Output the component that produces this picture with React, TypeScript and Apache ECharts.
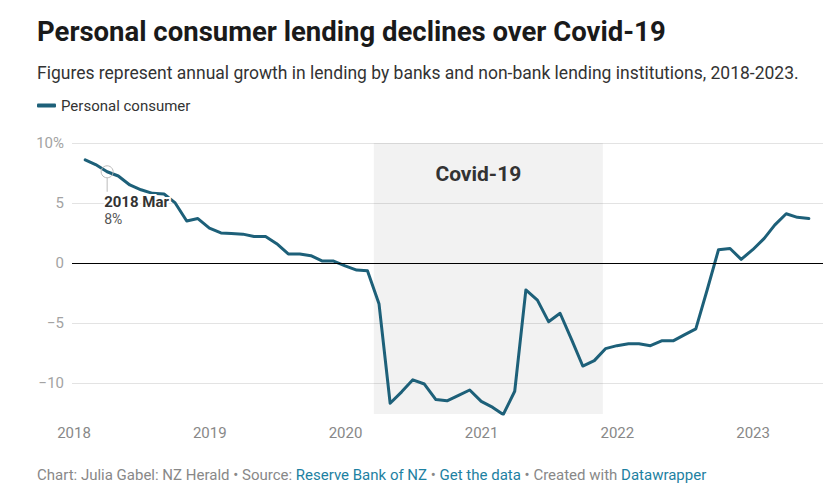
import React, { useEffect, useRef } from 'react';
import * as echarts from 'echarts';

// Month-end observations, Jan 2018 – May 2023
const months = [
  '2018-01', '2018-02', '2018-03', '2018-04', '2018-05', '2018-06', '2018-07', '2018-08', '2018-09', '2018-10', '2018-11', '2018-12',
  '2019-01', '2019-02', '2019-03', '2019-04', '2019-05', '2019-06', '2019-07', '2019-08', '2019-09', '2019-10', '2019-11', '2019-12',
  '2020-01', '2020-02', '2020-03', '2020-04', '2020-05', '2020-06', '2020-07', '2020-08', '2020-09', '2020-10', '2020-11', '2020-12',
  '2021-01', '2021-02', '2021-03', '2021-04', '2021-05', '2021-06', '2021-07', '2021-08', '2021-09', '2021-10', '2021-11', '2021-12',
  '2022-01', '2022-02', '2022-03', '2022-04', '2022-05', '2022-06', '2022-07', '2022-08', '2022-09', '2022-10', '2022-11', '2022-12',
  '2023-01', '2023-02', '2023-03', '2023-04', '2023-05',
];

const personalConsumer = [
  8.6, 8.2, 7.6, 7.25, 6.5, 6.1, 5.8, 5.75, 5.0, 3.5, 3.7, 2.9,
  2.5, 2.45, 2.4, 2.2, 2.2, 1.6, 0.75, 0.75, 0.6, 0.15, 0.15, -0.25,
  -0.6, -0.65, -3.4, -11.7, -10.75, -9.75, -10.1, -11.4, -11.5, -11.05, -10.6, -11.55,
  -12.05, -12.65, -10.7, -2.25, -3.1, -4.9, -4.2, -6.4, -8.6, -8.15, -7.15, -6.9,
  -6.75, -6.75, -6.9, -6.5, -6.5, -6.0, -5.5, -2.2, 1.1, 1.2, 0.3, 1.1,
  2.05, 3.15, 4.1, 3.8, 3.7,
];

const seriesName = 'Personal consumer';
const covidRange = ['2020-03-17', '2021-11-23'];
const covidLabel = 'Covid-19';
const annotatedMonth = '2018-03';
const annotatedLabel = '2018 Mar';
const yLabels: Record<string, string> = { '10': '10%', '5': '5', '0': '0', '-5': '\u22125', '-10': '\u221210' };

const titleText = 'Personal consumer lending declines over Covid-19';
const subtitleText = 'Figures represent annual growth in lending by banks and non-bank lending institutions, 2018-2023.';

const monthEnd = (s: string) => {
  const [y, m] = s.split('-').map(Number);
  return new Date(y, m, 0).getTime();
};
const dayTs = (s: string) => {
  const [y, m, d] = s.split('-').map(Number);
  return new Date(y, m - 1, d).getTime();
};

const LINE = '#1d6079';
const FONT = 'Roboto';

export default function App() {
  const ref = useRef<HTMLDivElement>(null);

  useEffect(() => {
    if (!ref.current) return;
    const chart = echarts.init(ref.current, null, { renderer: 'svg' });
    const data = months.map((m, i) => [monthEnd(m), personalConsumer[i]]);

    chart.setOption({
      animation: false,
      backgroundColor: '#ffffff',
      textStyle: { fontFamily: FONT },
      legend: {
        left: 37,
        top: 98,
        padding: 0,
        itemWidth: 19,
        itemHeight: 4,
        icon: 'roundRect',
        textStyle: { fontSize: 15, color: '#333333', fontFamily: FONT },
        data: [seriesName],
      },
      grid: { left: 72, right: 5, top: 143, bottom: 77 },
      xAxis: {
        type: 'time',
        min: new Date(2017, 11, 26, 12).getTime(),
        max: new Date(2023, 6, 8).getTime(),
        minInterval: 365 * 24 * 3600 * 1000,
        axisLine: { show: false },
        axisTick: { show: false },
        splitLine: { show: false },
        axisLabel: {
          color: '#888888',
          fontSize: 15,
          fontFamily: FONT,
          margin: 11,
          formatter: (val: number) => {
            const d = new Date(val);
            return d.getMonth() === 0 && d.getDate() === 1 ? String(d.getFullYear()) : '';
          },
        },
      },
      yAxis: {
        type: 'value',
        min: -12.6,
        max: 10,
        splitNumber: 5,
        axisLine: { show: false },
        axisTick: { show: false },
        splitLine: { show: true, showMinLine: false, lineStyle: { color: '#e3e3e3', width: 1 } },
        axisLabel: {
          color: '#a3a3a3',
          fontSize: 15,
          fontFamily: FONT,
          margin: 8,
          showMinLabel: false,
          formatter: (v: number) => yLabels[String(v)] ?? '',
        },
      },
      series: [
        {
          name: seriesName,
          type: 'line',
          data,
          showSymbol: false,
          symbol: 'none',
          color: LINE,
          lineStyle: { color: LINE, width: 3, cap: 'round', join: 'round' },
          markArea: {
            silent: true,
            itemStyle: { color: 'rgba(0,0,0,0.05)' },
            label: {
              show: true,
              position: 'insideTop',
              distance: 20,
              offset: [-10, 0],
              formatter: covidLabel,
              fontSize: 21,
              fontWeight: 'bold',
              color: '#333333',
              fontFamily: FONT,
            },
            data: [[{ xAxis: dayTs(covidRange[0]) }, { xAxis: dayTs(covidRange[1]) }]],
          },
          markLine: {
            silent: true,
            symbol: 'none',
            label: { show: false },
            lineStyle: { color: '#000000', width: 1, type: 'solid' },
            data: [{ yAxis: 0 }],
          },
        },
      ],
    });

    const idx = months.indexOf(annotatedMonth);
    const val = personalConsumer[idx];
    const [px, py] = chart.convertToPixel({ seriesIndex: 0 }, [monthEnd(annotatedMonth), val]) as number[];

    chart.setOption({
      graphic: [
        {
          type: 'text',
          style: { text: titleText, x: 37, y: 31, verticalAlign: 'middle', fontSize: 27.5, fontWeight: 'bold', fontFamily: FONT, fill: '#1a1a1a' },
        },
        {
          type: 'text',
          style: { text: subtitleText, x: 37, y: 73, verticalAlign: 'middle', fontSize: 17.5, fontFamily: FONT, fill: '#333333' },
        },
        {
          type: 'text',
          style: {
            x: 37,
            y: 475,
            verticalAlign: 'middle',
            fontSize: 15,
            fontFamily: FONT,
            text: '{g|Chart: Julia Gabel: NZ Herald \u2022 Source: }{b|Reserve Bank of NZ}{g| \u2022 }{b|Get the data}{g| \u2022 Created with }{b|Datawrapper}',
            rich: {
              g: { fill: '#888888', fontSize: 15, fontFamily: FONT },
              b: { fill: '#1d81a2', fontSize: 15, fontFamily: FONT },
            },
          },
        },
        {
          type: 'line',
          z: 10,
          shape: { x1: px, y1: py + 6, x2: px, y2: py + 20 },
          style: { stroke: '#bbbbbb', lineWidth: 1 },
        },
        {
          type: 'circle',
          z: 10,
          shape: { cx: px, cy: py, r: 6 },
          style: { fill: 'none', stroke: '#bbbbbb', lineWidth: 1 },
        },
        {
          type: 'text',
          z: 11,
          style: {
            text: annotatedLabel,
            x: px - 3,
            y: py + 30,
            verticalAlign: 'middle',
            fontSize: 15,
            fontWeight: 'bold',
            fontFamily: FONT,
            fill: '#333333',
            stroke: '#ffffff',
            lineWidth: 4,
          },
        },
        {
          type: 'text',
          z: 11,
          style: {
            text: `${Math.round(val)}%`,
            x: px - 3,
            y: py + 47,
            verticalAlign: 'middle',
            fontSize: 14,
            fontFamily: FONT,
            fill: '#555555',
            stroke: '#ffffff',
            lineWidth: 4,
          },
        },
      ],
    });

    return () => chart.dispose();
  }, []);

  return (
    <div
      ref={ref}
      style={{ position: 'absolute', left: 0, top: 0, width: 828, height: 491, background: '#fff' }}
    />
  );
}
